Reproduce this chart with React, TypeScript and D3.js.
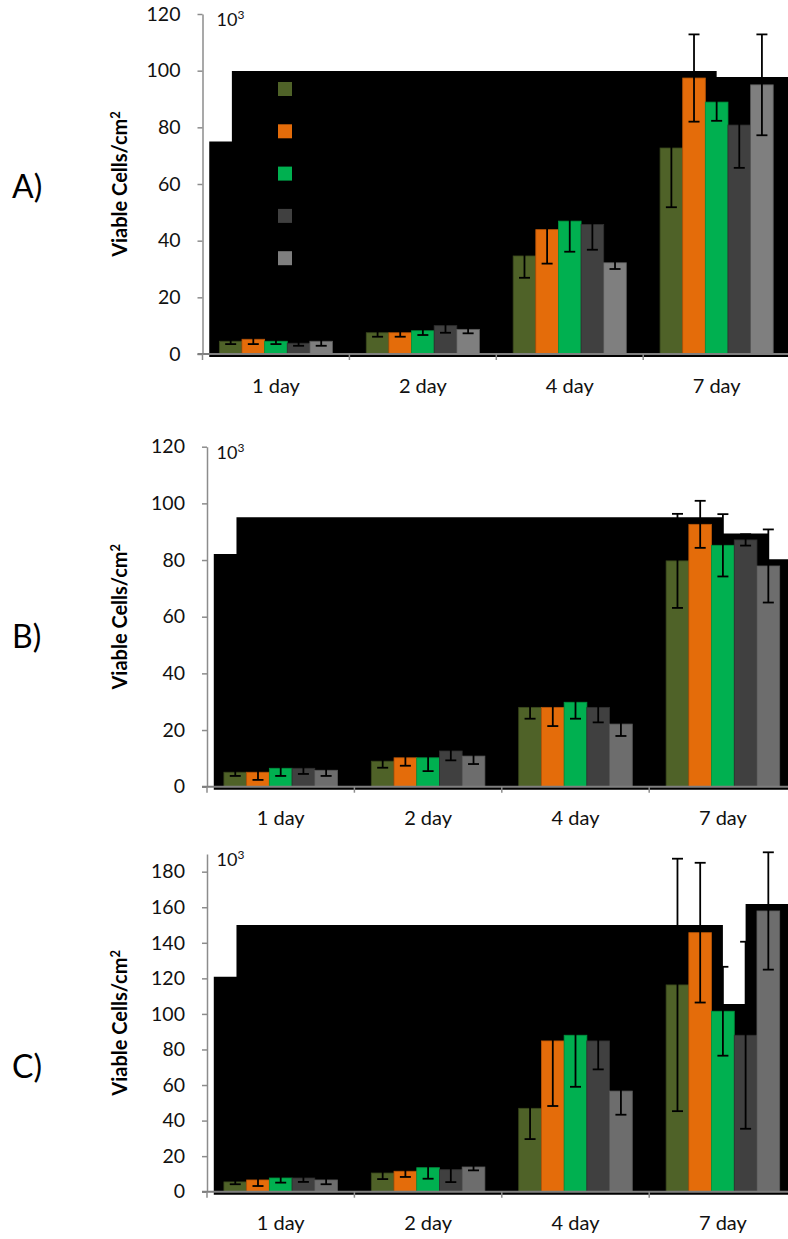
import React, { useEffect, useRef } from "react";
import * as d3 from "d3";

// categories and series
const days = ["1 day", "2 day", "4 day", "7 day"];
const seriesIdx = [0, 1, 2, 3, 4];

// panel A (x10^3 viable cells/cm2), one row per series
const meanA = [
  [4.5, 7.5, 34.6, 72.7],
  [5.2, 7.5, 43.9, 97.4],
  [4.5, 8.2, 46.9, 88.9],
  [3.8, 10.0, 45.7, 80.8],
  [4.5, 8.7, 32.2, 95.0],
];
const errA = [
  [1.0, 1.4, 7.7, 20.9],
  [1.7, 1.4, 12.0, 15.4],
  [1.0, 1.5, 10.8, 6.6],
  [0.9, 2.5, 8.9, 15.1],
  [1.6, 1.4, 2.2, 17.8],
];

// panel B
const meanB = [
  [5.1, 9.0, 28.0, 79.7],
  [5.1, 10.2, 28.0, 92.6],
  [6.5, 10.2, 29.8, 85.2],
  [6.5, 12.6, 28.0, 87.1],
  [5.8, 10.8, 22.1, 77.9],
];
const errB = [
  [1.3, 2.3, 4.0, 16.6],
  [2.7, 2.8, 6.6, 8.3],
  [2.7, 4.7, 5.8, 11.0],
  [2.0, 3.3, 5.3, 2.0],
  [2.0, 2.8, 4.2, 12.9],
];

// panel C
const meanC = [
  [5.5, 10.5, 46.9, 116.3],
  [6.6, 11.5, 84.8, 145.7],
  [7.7, 13.5, 88.0, 101.5],
  [7.7, 12.4, 84.8, 88.0],
  [6.6, 13.9, 56.6, 157.9],
];
const errC = [
  [1.3, 3.4, 17.3, 71.0],
  [3.4, 3.2, 36.6, 39.3],
  [2.6, 6.2, 29.0, 25.0],
  [2.2, 7.0, 16.0, 52.6],
  [2.4, 1.9, 13.3, 33.0],
];

// the black filled block behind the bars: step starts (in category units) and tops (data units)
const blackStartA = [0.046, 0.2, 3.5];
const blackTopA = [75, 99.9, 97.8];
const blackStartB = [0.046, 0.2, 3.5, 3.808];
const blackTopB = [82.1, 95.1, 89.4, 80.3];
const blackStartC = [0.046, 0.2, 3.5, 3.654];
const blackTopC = [120.9, 150, 105.6, 161.8];

const ticksAB = [0, 20, 40, 60, 80, 100, 120];
const ticksC = [0, 20, 40, 60, 80, 100, 120, 140, 160, 180];

const fills = ["#4f6228", "#e46c0a", "#00b050", "#404040"];
const strokes = ["#3a481d", "#b85508", "#00923f", "#303030"];

const FONT = "Lato, 'Open Sans', sans-serif";

type Panel = {
  letter: string;
  mean: number[][];
  err: number[][];
  blackStart: number[];
  blackTop: number[];
  ticks: number[];
  yMax: number;
  x0: number;
  x1: number;
  yBase: number;
  yTop: number;
  grey: string;
  legend: boolean;
  letterY: number;
};

const panels: Panel[] = [
  { letter: "A)", mean: meanA, err: errA, blackStart: blackStartA, blackTop: blackTopA, ticks: ticksAB, yMax: 120,
    x0: 202.5, x1: 790.1, yBase: 354, yTop: 14, grey: "#7f7f7f", legend: true, letterY: 185 },
  { letter: "B)", mean: meanB, err: errB, blackStart: blackStartB, blackTop: blackTopB, ticks: ticksAB, yMax: 120,
    x0: 207, x1: 796.6, yBase: 786.7, yTop: 446.7, grey: "#6d6d6d", legend: false, letterY: 635 },
  { letter: "C)", mean: meanC, err: errC, blackStart: blackStartC, blackTop: blackTopC, ticks: ticksC, yMax: 190,
    x0: 207, x1: 796.6, yBase: 1191.7, yTop: 853.9, grey: "#6d6d6d", legend: false, letterY: 1065 },
];

const App = () => {
  const svgRef = useRef<SVGSVGElement>(null);

  useEffect(() => {
    const svg = d3.select(svgRef.current);
    svg.selectAll("*").remove();

    panels.forEach((p) => {
      const g = svg.append("g");
      const colors = [...fills, p.grey];
      const strokeCols = [...strokes, "#5a5a5a"];

      const xBand = d3.scaleBand<string>().domain(days).range([p.x0, p.x1]).paddingInner(0).paddingOuter(0);
      const xSer = d3
        .scaleBand<number>()
        .domain(seriesIdx)
        .range([0, xBand.bandwidth()])
        .paddingInner(0)
        .paddingOuter(0.745);
      const t = d3.scaleLinear().domain([0, days.length]).range([p.x0, p.x1]);
      const y = d3.scaleLinear().domain([0, p.yMax]).range([p.yBase, p.yTop]);

      // black block
      const steps = p.blackStart.map((s, i) => ({ t: s, v: p.blackTop[i] }));
      steps.push({ t: days.length, v: p.blackTop[p.blackTop.length - 1] });
      const area = d3
        .area<{ t: number; v: number }>()
        .x((d) => t(d.t))
        .y0(p.yBase + 3)
        .y1((d) => y(d.v))
        .curve(d3.curveStepAfter);
      g.append("path").attr("d", area(steps)).attr("fill", "#000");

      // legend markers (panel A only)
      if (p.legend) {
        g.selectAll(".leg")
          .data(seriesIdx)
          .enter()
          .append("rect")
          .attr("x", 278)
          .attr("y", (d) => 82 + d * 42.3)
          .attr("width", 14)
          .attr("height", 14)
          .attr("fill", (d) => colors[d]);
      }

      // y axis
      const yAxis = g
        .append("g")
        .attr("transform", `translate(${p.x0},0)`)
        .call(d3.axisLeft(y).tickValues(p.ticks).tickSize(5).tickSizeOuter(0).tickPadding(17));
      yAxis.select(".domain").attr("stroke", "#8c8c8c").attr("stroke-width", 1.5);
      yAxis.selectAll(".tick line").attr("stroke", "#8c8c8c").attr("stroke-width", 1.5);
      yAxis
        .selectAll("text")
        .style("font-family", FONT)
        .style("font-size", "19.5px")
        .attr("fill", "#111");

      // bars
      seriesIdx.forEach((s) => {
        g.selectAll(`.bar${s}`)
          .data(days)
          .enter()
          .append("rect")
          .attr("x", (d) => (xBand(d) as number) + (xSer(s) as number))
          .attr("width", xSer.bandwidth())
          .attr("y", (d, i) => y(p.mean[s][i]))
          .attr("height", (d, i) => p.yBase - y(p.mean[s][i]))
          .attr("fill", colors[s])
          .attr("stroke", strokeCols[s])
          .attr("stroke-width", 0.8);
      });

      // error bars
      seriesIdx.forEach((s) => {
        days.forEach((d, i) => {
          const cx = (xBand(d) as number) + (xSer(s) as number) + xSer.bandwidth() / 2;
          const lo = y(p.mean[s][i] - p.err[s][i]);
          const hi = y(p.mean[s][i] + p.err[s][i]);
          g.append("line").attr("x1", cx).attr("x2", cx).attr("y1", lo).attr("y2", hi)
            .attr("stroke", "#000").attr("stroke-width", 1.8);
          [lo, hi].forEach((yy) => {
            g.append("line").attr("x1", cx - 5.5).attr("x2", cx + 5.5).attr("y1", yy).attr("y2", yy)
              .attr("stroke", "#000").attr("stroke-width", 1.8);
          });
        });
      });

      // x axis
      g.append("line")
        .attr("x1", p.x0 - 5)
        .attr("x2", p.x1)
        .attr("y1", p.yBase)
        .attr("y2", p.yBase)
        .attr("stroke", "#7f7f7f")
        .attr("stroke-width", 2);
      g.selectAll(".xtick")
        .data(d3.range(days.length + 1))
        .enter()
        .append("line")
        .attr("x1", (d) => t(d))
        .attr("x2", (d) => t(d))
        .attr("y1", p.yBase)
        .attr("y2", p.yBase + 6)
        .attr("stroke", "#8c8c8c")
        .attr("stroke-width", 1.5);
      g.selectAll(".xlab")
        .data(days)
        .enter()
        .append("text")
        .attr("x", (d) => (xBand(d) as number) + xBand.bandwidth() / 2)
        .attr("y", p.yBase + 38.5)
        .attr("text-anchor", "middle")
        .style("font-family", FONT)
        .style("font-size", "20px")
        .attr("fill", "#111")
        .text((d) => d);

      // 10^3 multiplier
      const mult = g
        .append("text")
        .attr("x", 216.5)
        .attr("y", p.yTop + 12)
        .style("font-family", FONT)
        .style("font-size", "18px")
        .attr("fill", "#111");
      mult.append("tspan").text("10");
      mult.append("tspan").attr("dy", -7).style("font-size", "12px").text("3");

      // y axis title
      const mid = (p.yTop + p.yBase) / 2;
      const title = g
        .append("text")
        .attr("transform", `translate(127,${mid}) rotate(-90)`)
        .attr("text-anchor", "middle")
        .style("font-family", FONT)
        .style("font-size", "20px")
        .style("font-weight", "bold")
        .attr("fill", "#000");
      title.append("tspan").text("Viable Cells/cm");
      title.append("tspan").attr("dy", -7).style("font-size", "13px").text("2");

      // panel letter
      g.append("text")
        .attr("x", 12)
        .attr("y", p.letterY)
        .attr("dominant-baseline", "central")
        .style("font-family", FONT)
        .style("font-size", "32px")
        .attr("fill", "#000")
        .text(p.letter);
    });
  }, []);

  return (
    <svg
      ref={svgRef}
      width={788}
      height={1239}
      style={{ position: "absolute", left: 0, top: 0, display: "block", background: "#fff" }}
    ></svg>
  );
};

export default App;
